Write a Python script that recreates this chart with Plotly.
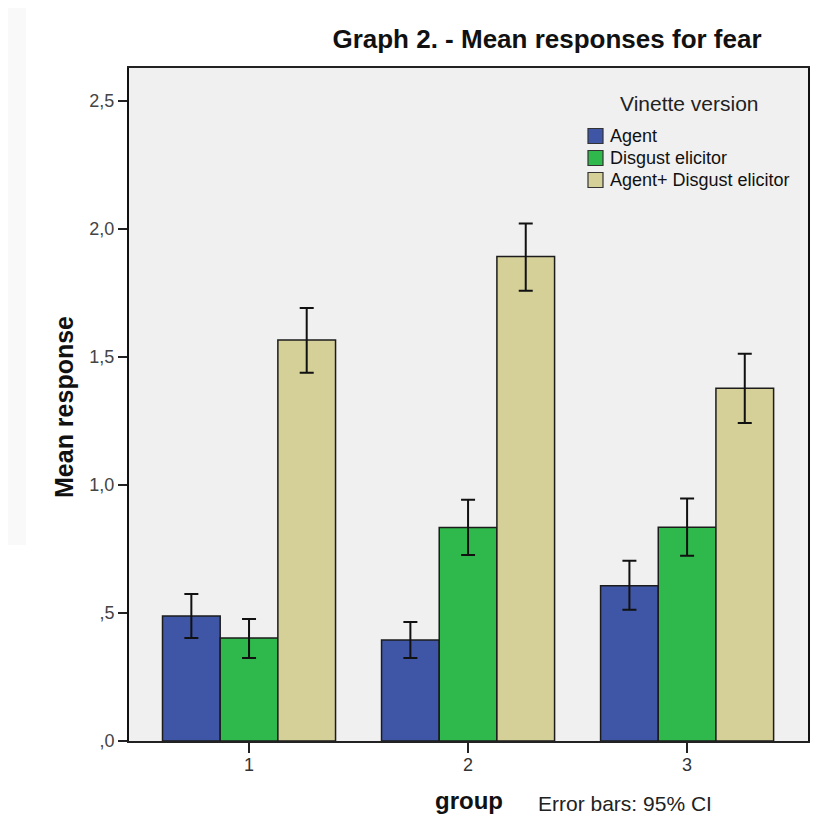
import plotly.graph_objects as go

# ---------------- data ----------------
groups = ["1", "2", "3"]
series_names = ["Agent", "Disgust elicitor", "Agent+ Disgust elicitor"]
agent_mean = [0.488, 0.395, 0.606]
agent_ci_low = [0.402, 0.324, 0.513]
agent_ci_high = [0.574, 0.465, 0.704]
disgust_mean = [0.402, 0.834, 0.835]
disgust_ci_low = [0.324, 0.727, 0.724]
disgust_ci_high = [0.477, 0.942, 0.947]
combined_mean = [1.566, 1.893, 1.378]
combined_ci_low = [1.438, 1.759, 1.242]
combined_ci_high = [1.691, 2.021, 1.513]
y_tick_vals = [0, 0.5, 1.0, 1.5, 2.0, 2.5]
y_tick_text = [",0", ",5", "1,0", "1,5", "2,0", "2,5"]

colors = ["#3f56a6", "#2fb84b", "#d5cf98"]

# ---------------- geometry (page pixels) ----------------
PAGE_W, PAGE_H = 833, 822
OFF = 8  # default body margin of the html page
W, H = PAGE_W - OFF, PAGE_H - OFF
L, R, T, B = 129, 808, 68, 741
FONT = "Arial, Liberation Sans, sans-serif"


def px(x):
    return (x - L) / (R - L)


def py(y):
    return (B - y) / (B - T)


fig = go.Figure()
means = [agent_mean, disgust_mean, combined_mean]
lows = [agent_ci_low, disgust_ci_low, combined_ci_low]
highs = [agent_ci_high, disgust_ci_high, combined_ci_high]
for name, m, lo, hi, c in zip(series_names, means, lows, highs, colors):
    fig.add_trace(go.Bar(
        name=name,
        x=groups,
        y=m,
        marker=dict(color=c, line=dict(color="#1c1c1c", width=1.5)),
        error_y=dict(
            type="data",
            symmetric=False,
            array=[h - v for h, v in zip(hi, m)],
            arrayminus=[v - l for v, l in zip(m, lo)],
            color="#111111",
            thickness=2,
            width=7,
        ),
        showlegend=False,
    ))

annotations = [
    dict(text="<b>Mean response</b>", x=px(64), y=py(407), xref="paper", yref="paper",
         textangle=-90, showarrow=False, xanchor="center", yanchor="middle",
         font=dict(family=FONT, size=25, color="#111111")),
    dict(text="<b>group</b>", x=px(469), y=py(801), xref="paper", yref="paper",
         showarrow=False, xanchor="center", yanchor="middle",
         font=dict(family=FONT, size=24, color="#111111")),
    dict(text="Error bars: 95% CI", x=px(536), y=py(803), xref="paper", yref="paper",
         showarrow=False, xanchor="left", yanchor="middle",
         font=dict(family=FONT, size=21, color="#222222")),
    dict(text="Vinette version", x=px(689), y=py(103), xref="paper", yref="paper",
         showarrow=False, xanchor="center", yanchor="middle",
         font=dict(family=FONT, size=21, color="#222222")),
]

shapes = [
    dict(type="rect", xref="paper", yref="paper", x0=px(0), x1=px(26), y0=py(0), y1=py(545),
         fillcolor="#f9f9f9", line=dict(width=0), layer="below"),
]

leg_y = [136, 158, 180]
for name, c, yy in zip(series_names, colors, leg_y):
    shapes.append(dict(type="rect", xref="paper", yref="paper",
                       x0=px(588), x1=px(603), y0=py(yy + 7.5), y1=py(yy - 7.5),
                       fillcolor=c, line=dict(color="#333333", width=1.2)))
    annotations.append(dict(text=name, x=px(608), y=py(yy), xref="paper", yref="paper",
                            showarrow=False, xanchor="left", yanchor="middle",
                            font=dict(family=FONT, size=18, color="#111111")))

fig.update_layout(
    width=W, height=H,
    margin=dict(l=L - OFF, r=PAGE_W - R, t=T - OFF, b=PAGE_H - B, pad=0),
    paper_bgcolor="white",
    plot_bgcolor="#f0f0f0",
    barmode="group",
    bargap=0.21,
    bargroupgap=0,
    title=dict(text="<b>Graph 2. - Mean responses for fear</b>", x=(547 - OFF) / W, xanchor="center",
               y=1 - (38.5 - OFF) / H, yanchor="middle",
               font=dict(family=FONT, size=26, color="#111111")),
    annotations=annotations,
    shapes=shapes,
    showlegend=False,
)

fig.update_xaxes(
    type="category",
    range=[-0.548, 2.552],
    showgrid=False,
    showline=True, linecolor="#222222", linewidth=2, mirror=True,
    ticks="outside", ticklen=10, tickwidth=2, tickcolor="#222222",
    ticklabelstandoff=-4,
    tickfont=dict(family=FONT, size=18, color="#333333"),
    zeroline=False,
)
fig.update_yaxes(
    range=[0, (B - T) / 256],
    tickvals=y_tick_vals, ticktext=y_tick_text,
    showgrid=False,
    showline=True, linecolor="#111111", linewidth=2, mirror=True,
    ticks="outside", ticklen=9, tickwidth=2, tickcolor="#222222",
    tickfont=dict(family=FONT, size=18, color="#444444"),
    zeroline=False,
)

fig.write_html("out.html")
